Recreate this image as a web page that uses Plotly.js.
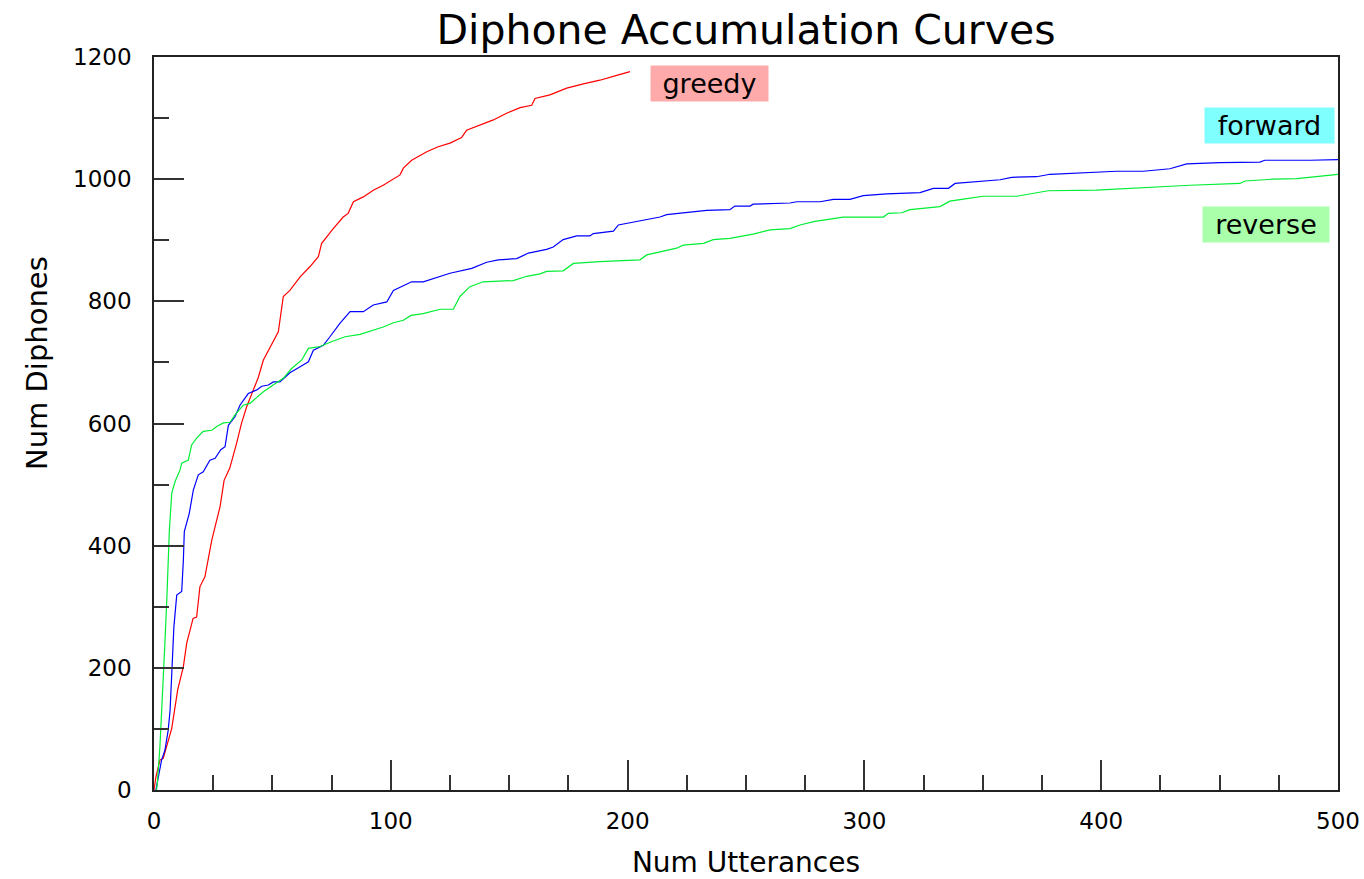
<!DOCTYPE html>
<html>
<head>
<meta charset="utf-8">
<script src="https://cdn.plot.ly/plotly-3.0.1.min.js"></script>
<style>
  html, body { margin: 0; padding: 0; background: #ffffff; }
  #chart { width: 1364px; height: 879px; }
</style>
</head>
<body>
<div id="chart"></div>
<script>
// Number of utterances (x) vs number of diphones covered (y)
var greedyX = [0, 0.8, 2.5, 3.9, 7.5, 10, 12.4, 13.8, 16.5, 18, 19.4, 21.5, 24.4, 27.9, 29.6, 32, 34.9, 37, 39.1, 41.9, 44, 46.2, 49.7, 52.5, 54.6, 57.4, 61.7, 65.9, 69.4, 70.8, 75.7, 79.9, 82, 84.2, 88.4, 92.6, 96.8, 100.4, 103.9, 105.3, 108.8, 115.2, 120, 125, 129.9, 132, 137.7, 143.3, 148.9, 154.6, 159.5, 160.9, 167.2, 174.3, 181.3, 188.3, 195.4, 201];
var greedyY = [0, 21, 49, 52, 101, 164, 202, 240, 281, 283, 333, 349, 409, 464, 507, 527, 568, 601, 627, 655, 675, 704, 731, 750, 808, 818, 840, 857, 873, 895, 919, 938, 944, 963, 971, 982, 990, 999, 1007, 1018, 1031, 1045, 1053, 1059, 1068, 1080, 1089, 1097, 1108, 1117, 1121, 1132, 1138, 1149, 1156, 1162, 1170, 1176];

var forwardX = [0.8, 3.2, 4.6, 6, 6.8, 7.5, 8.4, 9.6, 11.7, 12.4, 12.8, 14.9, 16.6, 18.7, 20.8, 23.6, 25.8, 28.2, 30, 31.4, 34.2, 36.3, 39.8, 43.4, 45.5, 48.3, 50.4, 53.2, 57.4, 61.7, 65.2, 67.3, 71.5, 74.3, 78.5, 82.8, 88.4, 92.6, 98.3, 101.1, 105.3, 108.8, 113.7, 125, 134.2, 140.5, 145.4, 153.2, 158.1, 165.8, 168.6, 172.8, 178.5, 184.1, 185.5, 194, 196.1, 205.2, 213.7, 216.5, 224.9, 233.4, 243.2, 245.3, 251.7, 253, 268.6, 271.4, 281.3, 286.9, 293.9, 299.5, 309.4, 323.5, 329.1, 335.5, 338.3, 348.8, 357.3, 362.2, 372.7, 378.4, 395.3, 406.5, 417.8, 429, 436.1, 450.1, 467, 469.1, 488.2, 500];
var forwardY = [0, 49, 65, 98, 131, 196, 267, 319, 325, 376, 423, 453, 491, 516, 521, 540, 543, 557, 562, 597, 611, 630, 649, 655, 661, 663, 668, 668, 683, 693, 701, 720, 728, 742, 764, 783, 783, 794, 799, 818, 825, 832, 832, 846, 854, 864, 868, 870, 879, 885, 889, 901, 907, 907, 911, 915, 925, 932, 938, 942, 945, 949, 950, 956, 956, 959, 961, 963, 963, 967, 967, 973, 976, 978, 985, 985, 993, 996, 999, 1003, 1004, 1008, 1011, 1013, 1013, 1017, 1025, 1027, 1028, 1031, 1031, 1032];

var reverseX = [1.1, 1.4, 2.5, 3.7, 4.6, 5.4, 6, 6.5, 7.5, 8.9, 11, 11.7, 14.5, 15.9, 18, 20.8, 24.4, 26.5, 29.3, 32.1, 34.2, 37.7, 40.5, 46.2, 51.1, 54.6, 58.1, 62.4, 65.2, 70.1, 75.7, 80.7, 87, 92.6, 96.8, 101.1, 105.3, 108.5, 113.7, 120.8, 126.4, 129.2, 133.4, 139, 151.7, 157.4, 163, 165.8, 172.8, 177.1, 188.3, 205.2, 208.1, 213.7, 220.7, 223.5, 232, 236.2, 243.2, 253, 260.1, 268.6, 272.8, 279.1, 284.1, 291.1, 308, 310.1, 315.7, 319.3, 331.9, 336.1, 343.2, 350.2, 364.3, 377.6, 398, 437.5, 458.6, 460.7, 472.7, 482.6, 500];
var reverseY = [0, 11, 71, 159, 240, 311, 376, 426, 486, 505, 524, 535, 540, 565, 576, 587, 589, 595, 601, 602, 614, 630, 633, 652, 665, 674, 690, 704, 723, 726, 735, 742, 746, 753, 758, 765, 769, 777, 780, 787, 787, 808, 824, 832, 834, 841, 845, 849, 850, 862, 865, 868, 876, 881, 887, 892, 895, 901, 903, 910, 917, 919, 925, 931, 934, 938, 938, 944, 945, 950, 955, 964, 968, 972, 972, 981, 982, 990, 993, 997, 1000, 1001, 1008];

var seriesNames = ['greedy', 'forward', 'reverse'];
var seriesColors = ['#ff0000', '#0000ff', '#00ee33'];
var labelBg = ['#ffaaaa', '#80ffff', '#aaffaa'];

var FONT = 'DejaVu Sans, Verdana, sans-serif';

var traces = [
  {x: greedyX, y: greedyY},
  {x: forwardX, y: forwardY},
  {x: reverseX, y: reverseY}
].map(function (d, i) {
  return {
    type: 'scatter', mode: 'lines', name: seriesNames[i],
    x: d.x, y: d.y,
    line: {color: seriesColors[i], width: 1.2},
    hoverinfo: 'x+y+name'
  };
});

// label boxes (paper coordinates inside the plot area)
var labelPos = [
  {x: 0.4688, y: 0.9638, w: 117, h: 35},
  {x: 0.9421, y: 0.9059, w: 129, h: 35},
  {x: 0.9392, y: 0.7715, w: 126, h: 35}
];

var annotations = seriesNames.map(function (n, i) {
  return {
    xref: 'paper', yref: 'paper', x: labelPos[i].x, y: labelPos[i].y,
    xanchor: 'center', yanchor: 'middle', showarrow: false,
    text: n, bgcolor: labelBg[i], width: labelPos[i].w, height: labelPos[i].h,
    borderpad: 0, align: 'center',
    font: {family: FONT, size: 27, color: '#000'}
  };
});

annotations.push({
  xref: 'paper', yref: 'paper', x: -0.0988, y: 0.5825,
  xanchor: 'center', yanchor: 'middle', showarrow: false, textangle: -90,
  text: 'Num Diphones', font: {family: FONT, size: 29, color: '#000'}
});

var axisCommon = {
  showgrid: false, zeroline: false,
  showline: true, linecolor: '#222', linewidth: 1.5, mirror: true,
  ticks: 'inside', ticklen: 30, tickwidth: 1.5, tickcolor: '#333',
  tickfont: {family: FONT, size: 23, color: '#000'}
};

var layout = {
  width: 1364, height: 879,
  margin: {l: 154, r: 26, t: 57, b: 89},
  paper_bgcolor: '#ffffff', plot_bgcolor: '#ffffff',
  showlegend: false,
  title: {
    text: 'Diphone Accumulation Curves',
    font: {family: FONT, size: 41, color: '#000'},
    xref: 'paper', x: 0.5, xanchor: 'center',
    yref: 'container', y: 0.966, yanchor: 'middle'
  },
  xaxis: Object.assign({}, axisCommon, {
    range: [0, 500], dtick: 100, tick0: 0,
    ticklabelstandoff: 10,
    minor: {dtick: 25, tick0: 0, ticks: 'inside', ticklen: 15, tickwidth: 1.5, tickcolor: '#333', showgrid: false},
    title: {text: 'Num Utterances', font: {family: FONT, size: 28, color: '#000'}, standoff: 22}
  }),
  yaxis: Object.assign({}, axisCommon, {
    range: [0, 1200], dtick: 200, tick0: 0,
    ticklabelstandoff: 16,
    minor: {dtick: 100, tick0: 0, ticks: 'inside', ticklen: 15, tickwidth: 1.5, tickcolor: '#333', showgrid: false}
  }),
  annotations: annotations
};

Plotly.newPlot('chart', traces, layout, {displayModeBar: false, responsive: false});
</script>
</body>
</html>
